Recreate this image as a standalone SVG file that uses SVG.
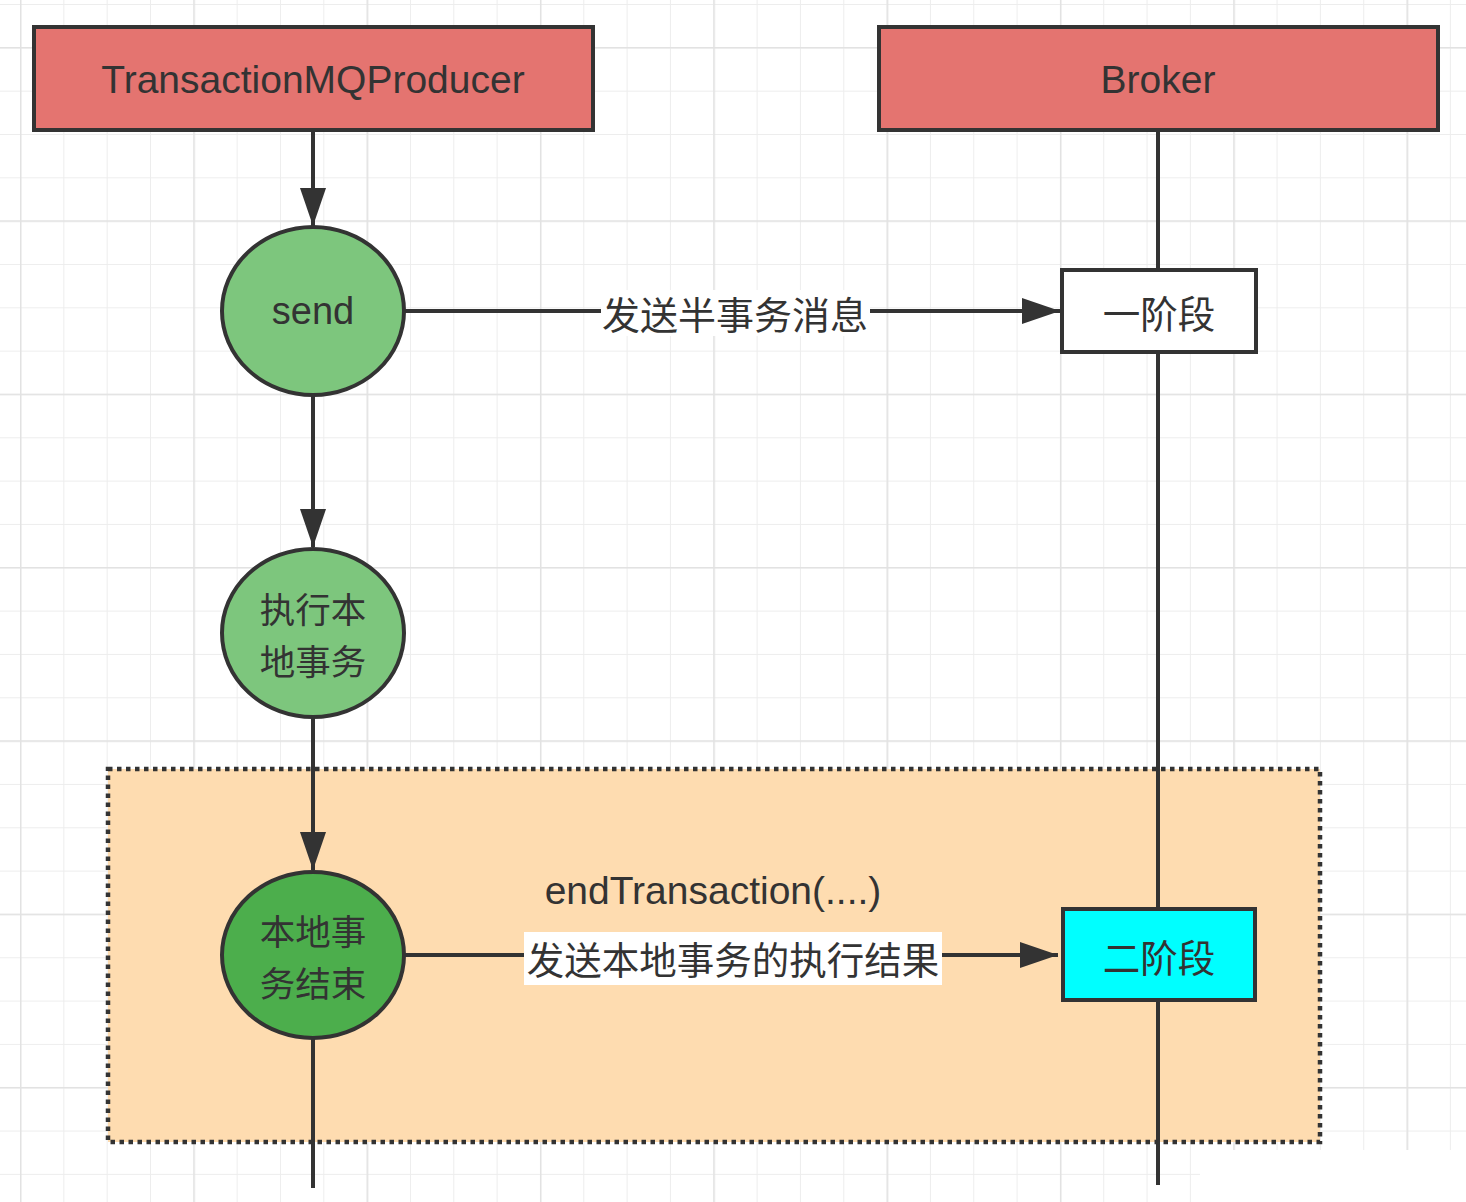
<svg xmlns="http://www.w3.org/2000/svg" width="1466" height="1202" viewBox="0 0 1466 1202">
<defs>
<pattern id="minor" x="20" y="4" width="43.33" height="43.33" patternUnits="userSpaceOnUse">
<path d="M0 0 H43.33 M0 0 V43.33" fill="none" stroke="#ededed" stroke-width="2"/>
</pattern>
<pattern id="major" x="20" y="47" width="173.33" height="173.33" patternUnits="userSpaceOnUse">
<path d="M0 0 H173.33 M0 0 V173.33" fill="none" stroke="#e2e2e2" stroke-width="3"/>
</pattern>
<marker id="arr" markerWidth="40" markerHeight="28" refX="38" refY="14" orient="auto" markerUnits="userSpaceOnUse">
<path d="M0 1 L38 14 L0 27 Z" fill="#333"/>
</marker>
<style>
.lbl{font-family:"Liberation Sans","Noto Sans CJK SC",sans-serif;fill:#333;text-anchor:middle;dominant-baseline:central}
.cjk{font-family:"Noto Sans CJK SC","Liberation Sans",sans-serif;fill:#333;text-anchor:middle;dominant-baseline:central}
.box{stroke:#333;stroke-width:4}
.ln{stroke:#333;stroke-width:4;fill:none}
</style>
</defs>
<rect width="1466" height="1202" fill="#fff"/>
<rect width="1466" height="1202" fill="url(#minor)"/>
<rect width="1466" height="1202" fill="url(#major)"/>
<rect x="1200" y="1150" width="266" height="52" fill="#fff"/>

<g id="phase2-area">
<rect x="108" y="769" width="1212" height="373" fill="#fedcb0" stroke="#333" stroke-width="4.5" stroke-dasharray="4.5 4.5"/>
</g>

<g id="connectors">
<line class="ln" x1="313" y1="130" x2="313" y2="226" marker-end="url(#arr)"/>
<line class="ln" x1="313" y1="395" x2="313" y2="547" marker-end="url(#arr)"/>
<line class="ln" x1="313" y1="717" x2="313" y2="870" marker-end="url(#arr)"/>
<line class="ln" x1="313" y1="1038" x2="313" y2="1188"/>
<line class="ln" x1="1158" y1="130" x2="1158" y2="270"/>
<line class="ln" x1="1158" y1="352" x2="1158" y2="909"/>
<line class="ln" x1="1158" y1="1000" x2="1158" y2="1185"/>
<line class="ln" x1="404" y1="311" x2="1060" y2="311" marker-end="url(#arr)"/>
<line class="ln" x1="404" y1="955" x2="1058" y2="955" marker-end="url(#arr)"/>
<rect x="601" y="290" width="269" height="46" fill="#fff"/>
<text class="cjk" x="735" y="312" font-size="38">发送半事务消息</text>
<text class="lbl" x="713" y="890" font-size="39">endTransaction(....)</text>
<rect x="524" y="932" width="418" height="53" fill="#fff"/>
<text class="cjk" x="733" y="957" font-size="37.5">发送本地事务的执行结果</text>
</g>

<g id="producer">
<rect class="box" x="34" y="27" width="559" height="103" fill="#e47470"/>
<text class="lbl" x="313" y="79" font-size="39">TransactionMQProducer</text>
</g>
<g id="broker">
<rect class="box" x="879" y="27" width="559" height="103" fill="#e47470"/>
<text class="lbl" x="1158" y="79" font-size="39">Broker</text>
</g>
<g id="send">
<ellipse class="box" cx="313" cy="311" rx="91" ry="84" fill="#7dc67d"/>
<text class="lbl" x="313" y="311" font-size="38">send</text>
</g>
<g id="exec-local">
<ellipse class="box" cx="313" cy="633" rx="91" ry="84" fill="#7dc67d"/>
<text class="cjk" x="313" y="607" font-size="35.5">执行本</text>
<text class="cjk" x="313" y="659" font-size="35.5">地事务</text>
</g>
<g id="local-end">
<ellipse class="box" cx="313" cy="955" rx="91" ry="83" fill="#4cae4c"/>
<text class="cjk" x="313" y="929" font-size="35.5">本地事</text>
<text class="cjk" x="313" y="981" font-size="35.5">务结束</text>
</g>
<g id="phase1">
<rect class="box" x="1062" y="270" width="194" height="82" fill="#fff"/>
<text class="cjk" x="1159" y="311" font-size="37.5">一阶段</text>
</g>
<g id="phase2">
<rect class="box" x="1063" y="909" width="192" height="91" fill="#00ffff"/>
<text class="cjk" x="1159" y="955" font-size="37.5">二阶段</text>
</g>
</svg>
